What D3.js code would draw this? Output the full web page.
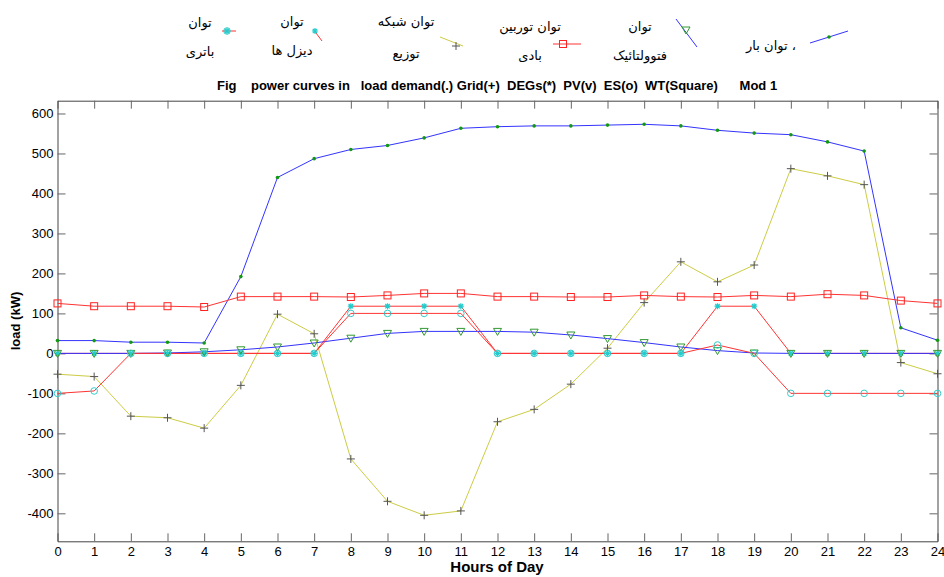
<!DOCTYPE html>
<html lang="en">
<head>
    <meta charset="UTF-8">
    <script src="https://cdn.jsdelivr.net/npm/d3@7/dist/d3.min.js"></script>
    <title>Mod 1 power curves</title>
    <style>
        body { margin: 0; background: #fff; }
        svg { display: block; font-family: "Liberation Sans", Arial, sans-serif; }
    </style>
</head>
<body>
    <svg id="chart"></svg>
<script>
    // hours of the day
    const hours = d3.range(0, 25);

    // series values (kW)
    const loadDemand = [32, 32, 28, 28, 26, 192, 440, 487, 510, 520, 539, 563, 567, 569, 569, 571, 573, 569, 558, 551, 547, 529, 506, 64, 33];
    const gridPower  = [-52, -58, -157, -161, -187, -80, 98, 49, -264, -370, -405, -394, -171, -140, -77, 13, 127, 229, 179, 221, 462, 444, 422, -23, -51];
    const degPower   = [0, 0, 0, 0, 0, 0, 0, 0, 118, 118, 118, 118, 0, 0, 0, 0, 0, 0, 118, 118, 0, 0, 0, 0, 0];
    const pvPower    = [0, 0, 0, 1, 4, 9, 16, 26, 38, 50, 55, 55, 55, 53, 46, 37, 27, 16, 7, 1, 0, 0, 0, 0, 0];
    const esPower    = [-100, -94, 0, 0, 0, 0, 0, 0, 100, 100, 100, 100, 0, 0, 0, 0, 0, 0, 21, 0, -100, -100, -100, -100, -100];
    const wtPower    = [125, 118, 118, 118, 116, 142, 142, 142, 141, 145, 150, 150, 142, 142, 141, 141, 145, 142, 141, 145, 142, 148, 145, 132, 125];

    const yTicks = d3.range(-400, 601, 100);
    const xTicks = d3.range(0, 25, 1);

    const width = 944, height = 577;
    const box = {left: 57.5, right: 937.5, top: 100.7, bottom: 541.3};

    const x = d3.scaleLinear([0, 24], [box.left, box.right]);
    const y = d3.scaleLinear([-470, 632], [box.bottom, box.top]);

    const svg = d3.select("#chart")
        .attr("width", width)
        .attr("height", height);

    const series = [
        {name: "load", values: loadDemand, line: "#3333ff", marker: "dot", mcolor: "#119911"},
        {name: "grid", values: gridPower, line: "#cccc44", marker: "plus", mcolor: "#555555"},
        {name: "deg", values: degPower, line: "#ff3333", marker: "star", mcolor: "#22cccc"},
        {name: "pv", values: pvPower, line: "#3333ff", marker: "tri", mcolor: "#339933"},
        {name: "es", values: esPower, line: "#ff3333", marker: "circle", mcolor: "#33cccc"},
        {name: "wt", values: wtPower, line: "#ff3333", marker: "square", mcolor: "#ff2222"}
    ];

    // axes box with inward ticks on all four sides
    const axisColor = "#444";
    const plain = d => String(d);   // hyphen minus, like the original
    svg.append("g")
        .attr("transform", `translate(0,${box.bottom})`)
        .call(d3.axisBottom(x).tickValues(xTicks).tickFormat(plain).tickSizeInner(-8).tickSizeOuter(0).tickPadding(5))
        .call(g => g.select(".domain").attr("stroke", axisColor));
    svg.append("g")
        .attr("transform", `translate(0,${box.top})`)
        .call(d3.axisTop(x).tickValues(xTicks).tickSizeInner(-8).tickSizeOuter(0).tickFormat(""))
        .call(g => g.select(".domain").attr("stroke", axisColor));
    svg.append("g")
        .attr("transform", `translate(${box.left},0)`)
        .call(d3.axisLeft(y).tickValues(yTicks).tickFormat(plain).tickSizeInner(-8).tickSizeOuter(0).tickPadding(4))
        .call(g => g.select(".domain").attr("stroke", axisColor));
    svg.append("g")
        .attr("transform", `translate(${box.right},0)`)
        .call(d3.axisRight(y).tickValues(yTicks).tickSizeInner(-8).tickSizeOuter(0).tickFormat(""))
        .call(g => g.select(".domain").attr("stroke", axisColor));

    svg.selectAll(".tick line").attr("stroke", "#666");
    svg.selectAll(".tick text")
        .attr("fill", "#000")
        .attr("font-size", 13)
        .attr("font-family", "'Liberation Sans', Arial, sans-serif");

    // curves
    const line = d3.line().x((d, i) => x(hours[i])).y(d => y(d));
    const plot = svg.append("g");

    series.forEach(s => {
        plot.append("path")
            .datum(s.values)
            .attr("fill", "none")
            .attr("stroke", s.line)
            .attr("stroke-width", 1)
            .attr("d", line);
    });

    function drawMarker(g, type, color, cx, cy) {
        if (type === "dot") {
            g.append("circle").attr("cx", cx).attr("cy", cy).attr("r", 1.8).attr("fill", color);
        } else if (type === "plus") {
            g.append("path").attr("d", `M${cx - 4},${cy}H${cx + 4}M${cx},${cy - 4}V${cy + 4}`)
                .attr("stroke", color).attr("stroke-width", 1);
        } else if (type === "star") {
            g.append("path").attr("d", `M${cx - 3},${cy}H${cx + 3}M${cx},${cy - 3}V${cy + 3}M${cx - 2.2},${cy - 2.2}L${cx + 2.2},${cy + 2.2}M${cx - 2.2},${cy + 2.2}L${cx + 2.2},${cy - 2.2}`)
                .attr("stroke", color).attr("stroke-width", 1.2);
        } else if (type === "tri") {
            g.append("path").attr("d", `M${cx - 4},${cy - 3}H${cx + 4}L${cx},${cy + 4}Z`)
                .attr("fill", "none").attr("stroke", color).attr("stroke-width", 1);
        } else if (type === "circle") {
            g.append("circle").attr("cx", cx).attr("cy", cy).attr("r", 3.3)
                .attr("fill", "none").attr("stroke", color).attr("stroke-width", 1);
        } else if (type === "square") {
            g.append("rect").attr("x", cx - 3.5).attr("y", cy - 3.5).attr("width", 7).attr("height", 7)
                .attr("fill", "none").attr("stroke", color).attr("stroke-width", 1);
        }
    }

    series.forEach(s => {
        const g = plot.append("g");
        s.values.forEach((v, i) => drawMarker(g, s.marker, s.mcolor, x(hours[i]), y(v)));
    });

    // legend (fixed slots above the plot)
    const legend = svg.append("g")
        .attr("font-family", "'DejaVu Sans', 'Noto Sans', sans-serif")
        .attr("font-size", 13)
        .attr("fill", "#000")
        .attr("text-anchor", "middle");

    const legendItems = [
        {lines: ["توان", "باتری"], tx: 200, ty: [27, 56], seg: [222, 31, 236, 31], m: [227, 31], s: series[4]},
        {lines: ["توان", "دیزل ها"], tx: 292, ty: [26, 55], seg: [313, 29, 322, 41], m: [315, 31], s: series[2]},
        {lines: ["توان شبکه", "توزیع"], tx: 406, ty: [26, 58], seg: [440, 37, 463, 46], m: [456, 46], s: series[1]},
        {lines: ["توان توربین", "بادی"], tx: 530, ty: [31, 60], seg: [553, 44, 581, 44], m: [563, 44], s: series[5]},
        {lines: ["توان", "فتوولتائیک"], tx: 640, ty: [31, 60], seg: [676, 19, 697, 47], m: [686, 30], s: series[3]},
        {lines: ["توان بار ،"], tx: 771, ty: [50], seg: [810, 43, 848, 31], m: [829, 37], s: series[0], ltr: true}
    ];

    legendItems.forEach(item => {
        item.lines.forEach((t, i) => {
            legend.append("text")
                .attr("x", item.tx)
                .attr("y", item.ty[i])
                .attr("direction", item.ltr ? "ltr" : "rtl")
                .text(t);
        });
        legend.append("line")
            .attr("x1", item.seg[0]).attr("y1", item.seg[1])
            .attr("x2", item.seg[2]).attr("y2", item.seg[3])
            .attr("stroke", item.s.line);
        drawMarker(legend, item.s.marker, item.s.mcolor, item.m[0], item.m[1]);
    });
    // the battery sample also shows the diesel star under the circle
    drawMarker(legend, "star", "#22cccc", 227, 31);

    // titles
    svg.append("text")
        .attr("x", 217)
        .attr("y", 90)
        .attr("font-size", 13)
        .attr("font-weight", "bold")
        .attr("fill", "#000")
        .style("white-space", "pre")
        .text("Fig    power curves in   load demand(.) Grid(+)  DEGs(*)  PV(v)  ES(o)  WT(Square)      Mod 1");

    svg.append("text")
        .attr("transform", "translate(20,321) rotate(-90)")
        .attr("text-anchor", "middle")
        .attr("font-size", 13)
        .attr("font-weight", "bold")
        .attr("fill", "#000")
        .text("load (kW)");

    svg.append("text")
        .attr("x", 497)
        .attr("y", 572)
        .attr("text-anchor", "middle")
        .attr("font-size", 15)
        .attr("font-weight", "bold")
        .attr("fill", "#000")
        .text("Hours of Day");
</script>
</body>
</html>
